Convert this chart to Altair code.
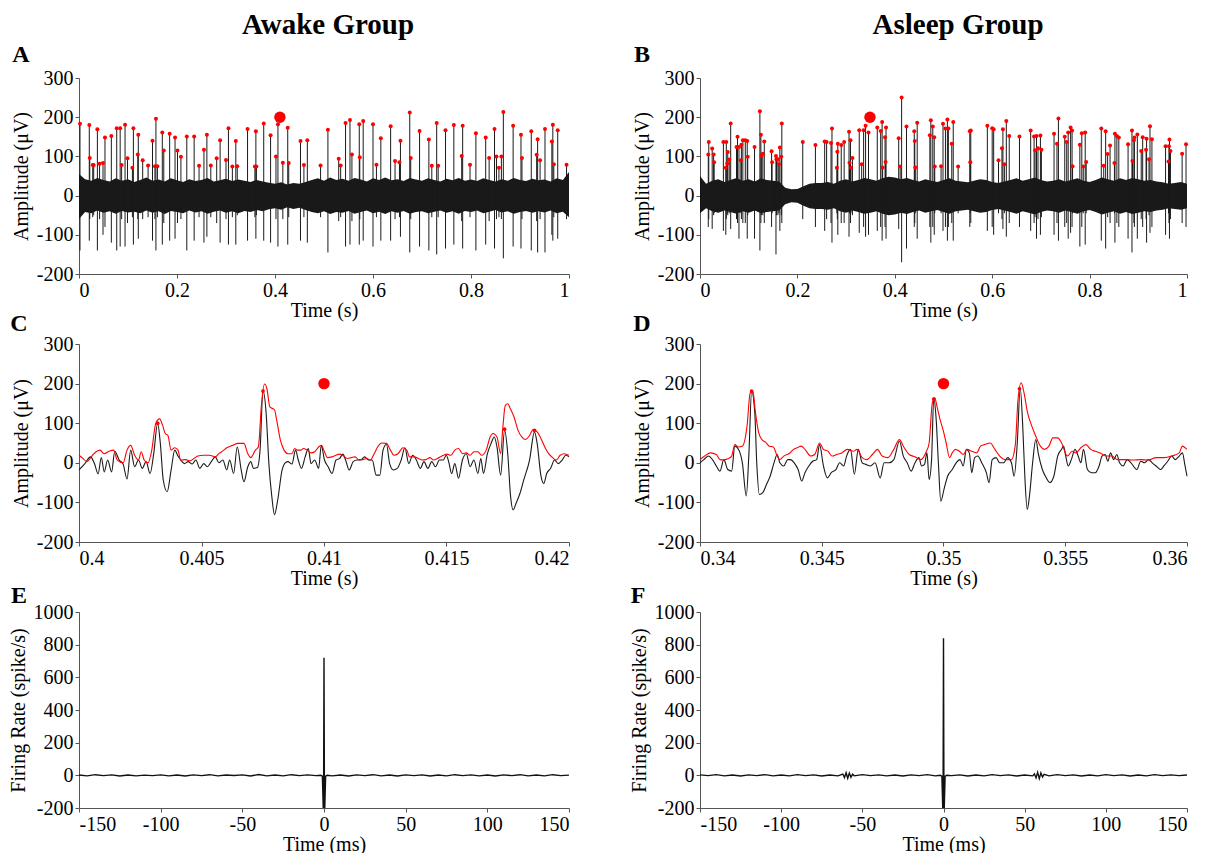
import altair as alt
import pandas as pd

FONT = "Liberation Serif"

# ---------------- Panel A (awake, 1 s raw trace) ----------------
a_spike_t = [0.002,0.021,0.022,0.028,0.030,0.0375,0.042,0.049,0.053,0.066,0.077,0.084,0.087,0.094,0.099,0.109,0.111,0.120,0.121,0.130,
             0.141,0.150,0.155,0.157,0.160,0.170,0.173,0.185,0.196,0.201,0.208,0.220,0.235,0.245,0.255,0.261,0.269,0.281,0.288,0.300,
             0.305,0.313,0.320,0.323,0.344,0.359,0.361,0.362,0.377,0.391,0.402,0.406,0.416,0.426,0.428,0.452,0.459,0.466,0.493,0.508,
             0.530,0.534,0.544,0.553,0.557,0.572,0.573,0.580,0.600,0.607,0.616,0.636,0.645,0.654,0.656,0.675,0.677,0.695,0.714,0.720,
             0.730,0.733,0.748,0.765,0.781,0.783,0.798,0.810,0.830,0.837,0.848,0.852,0.857,0.862,0.866,0.886,0.902,0.904,0.923,0.934,
             0.936,0.941,0.951,0.965,0.967,0.969,0.977,0.995]
a_spike_peak = [183,180,96,78,78,169,81,83,148,152,172,172,78,181,95,71,172,105,155,90,
                77,140,75,196,75,161,115,158,148,115,99,151,151,76,117,155,77,95,141,91,
                172,74,139,75,170,74,164,74,184,154,100,182,84,173,83,139,78,141,77,168,
                94,77,185,193,105,182,98,190,182,79,146,177,88,85,140,212,96,165,143,76,
                185,76,167,180,101,178,79,159,148,96,170,100,71,100,213,178,155,96,164,104,
                144,90,170,138,181,80,167,79]
a_spike_trough = [-140,-115,-60,-55,-50,-140,-60,-100,-80,-120,-140,-130,-60,-130,-70,-55,-125,-60,-110,-60,
                  -55,-115,-60,-140,-55,-125,-70,-115,-110,-70,-60,-140,-115,-55,-120,-105,-55,-70,-120,-60,
                  -125,-55,-125,-50,-115,-55,-110,-50,-115,-120,-60,-130,-60,-125,-55,-115,-55,-120,-55,-145,
                  -65,-55,-130,-125,-65,-125,-60,-115,-130,-55,-115,-115,-60,-55,-105,-145,-60,-130,-140,-55,
                  -150,-55,-135,-125,-65,-135,-55,-140,-125,-65,-135,-60,-55,-60,-160,-130,-135,-60,-140,-65,
                  -145,-60,-145,-100,-115,-55,-110,-60]

noise_t = [0,0.0125,0.025,0.0375,0.05,0.0625,0.075,0.0875,0.1,0.1125,0.125,0.1375,0.15,0.1625,0.175,0.1875,0.2,0.2125,0.225,0.2375,
           0.25,0.2625,0.275,0.2875,0.3,0.3125,0.325,0.3375,0.35,0.3625,0.375,0.3875,0.4,0.4125,0.425,0.4375,0.45,0.4625,0.475,0.4875,
           0.5,0.5125,0.525,0.5375,0.55,0.5625,0.575,0.5875,0.6,0.6125,0.625,0.6375,0.65,0.6625,0.675,0.6875,0.7,0.7125,0.725,0.7375,
           0.75,0.7625,0.775,0.7875,0.8,0.8125,0.825,0.8375,0.85,0.8625,0.875,0.8875,0.9,0.9125,0.925,0.9375,0.95,0.9625,0.975,0.9875,1]
a_noise_hi = [55,42,38,45,40,36,44,38,42,35,40,46,38,41,36,44,39,35,42,37,
              40,45,36,39,43,37,41,38,35,40,36,33,30,34,28,32,30,35,40,44,
              38,46,40,43,38,45,41,36,44,40,46,39,42,37,45,41,38,44,40,36,
              43,39,45,38,41,37,44,40,36,42,38,45,40,37,43,39,41,36,44,40,60]
a_noise_lo = [-60,-42,-45,-38,-44,-40,-46,-39,-43,-41,-45,-38,-44,-40,-47,-39,-42,-45,-38,-43,
              -40,-46,-41,-38,-44,-40,-45,-39,-42,-37,-40,-35,-32,-36,-30,-34,-31,-37,-42,-45,
              -40,-47,-42,-44,-39,-46,-42,-38,-45,-41,-47,-40,-44,-39,-46,-42,-40,-45,-41,-38,
              -44,-40,-46,-39,-42,-38,-45,-41,-37,-43,-40,-46,-42,-39,-44,-40,-43,-38,-45,-41,-55]
a_marker_t = [0.41]
a_marker_v = [200]

# ---------------- Panel B (asleep, 1 s raw trace) ----------------
b_spike_t = [0.017,0.018,0.025,0.028,0.029,0.048,0.053,0.054,0.056,0.057,0.060,0.063,0.075,0.077,0.080,0.084,0.085,0.088,0.093,0.097,
             0.098,0.112,0.123,0.125,0.126,0.129,0.132,0.147,0.148,0.156,0.157,0.160,0.162,0.164,0.167,0.168,0.211,0.237,0.256,0.260,
             0.269,0.271,0.281,0.282,0.283,0.290,0.296,0.306,0.307,0.309,0.310,0.313,0.327,0.332,0.336,0.340,0.346,0.364,0.371,0.374,
             0.375,0.380,0.381,0.382,0.408,0.411,0.414,0.424,0.440,0.441,0.442,0.446,0.472,0.474,0.478,0.481,0.482,0.495,0.499,0.504,
             0.508,0.510,0.517,0.520,0.530,0.554,0.555,0.556,0.590,0.600,0.603,0.613,0.620,0.622,0.625,0.629,0.635,0.656,0.679,0.686,
             0.688,0.691,0.694,0.699,0.701,0.727,0.733,0.736,0.749,0.753,0.756,0.761,0.764,0.765,0.780,0.784,0.787,0.791,0.793,0.824,
             0.829,0.833,0.837,0.842,0.851,0.852,0.856,0.860,0.879,0.887,0.888,0.891,0.892,0.898,0.906,0.909,0.916,0.917,0.922,0.924,
             0.928,0.956,0.962,0.963,0.964,0.966,0.990,0.998]
b_spike_peak = [105,137,120,105,85,137,71,137,82,111,92,184,124,150,124,90,130,141,141,139,
                99,124,215,155,101,107,138,113,85,101,93,93,80,123,99,184,137,129,138,137,
                134,171,71,112,132,129,137,163,84,141,71,96,167,80,167,178,161,174,165,188,
                72,149,86,174,146,74,250,176,164,139,72,186,154,192,176,149,74,75,183,171,
                194,171,132,188,74,164,85,166,178,172,169,90,121,169,80,190,152,151,166,151,
                116,152,121,153,117,158,132,197,150,137,161,174,166,75,130,159,74,161,86,171,
                76,164,106,128,83,158,152,148,131,166,88,141,148,156,114,149,117,145,93,177,
                144,126,87,126,143,114,107,131]
b_spike_trough = [-80,-60,-85,-50,-45,-90,-100,-60,-45,-50,-45,-85,-60,-70,-110,-45,-60,-70,-70,-110,
                  -50,-110,-140,-70,-50,-50,-70,-80,-45,-150,-50,-50,-45,-90,-50,-70,-60,-80,-90,-60,
                  -70,-120,-45,-60,-100,-70,-70,-105,-45,-70,-45,-50,-95,-45,-80,-105,-100,-90,-80,-115,
                  -45,-80,-45,-110,-85,-45,-170,-135,-80,-70,-45,-110,-80,-120,-80,-100,-45,-45,-90,-80,
                  -115,-80,-70,-115,-45,-80,-45,-70,-90,-80,-100,-45,-60,-85,-45,-105,-70,-80,-90,-70,
                  -55,-110,-60,-100,-55,-100,-70,-115,-80,-70,-110,-95,-80,-45,-130,-80,-45,-125,-45,-115,
                  -45,-135,-55,-70,-45,-120,-70,-80,-110,-145,-45,-70,-80,-110,-60,-80,-60,-120,-50,-95,
                  -80,-100,-45,-70,-110,-60,-70,-80]
b_noise_hi = [50,30,38,42,35,40,45,38,42,36,44,40,38,36,20,16,17,24,30,32,
              32,35,30,38,42,36,40,45,42,38,44,48,46,42,45,40,36,42,38,35,
              40,44,38,36,34,38,42,40,35,32,36,40,44,38,42,46,40,36,38,42,
              36,40,44,38,35,40,46,42,38,44,40,45,42,38,40,36,34,30,32,35,30]
b_noise_lo = [-45,-32,-40,-44,-38,-42,-46,-40,-44,-38,-45,-42,-40,-38,-22,-17,-18,-26,-32,-34,
              -34,-36,-32,-40,-44,-38,-42,-46,-44,-40,-46,-50,-48,-44,-47,-42,-38,-44,-40,-37,
              -42,-46,-40,-38,-36,-40,-44,-42,-37,-34,-38,-42,-46,-40,-44,-48,-42,-38,-40,-44,
              -38,-42,-46,-40,-37,-42,-48,-44,-40,-46,-42,-47,-44,-40,-42,-38,-36,-32,-34,-36,-32]
b_marker_t = [0.349]
b_marker_v = [200]

# ---------------- Panel C (awake, 20 ms zoom) ----------------
c_black_t = [0.40000,0.40024,0.40047,0.40063,0.40078,0.40091,0.40103,0.40117,0.40133,0.40146,0.40164,0.40180,0.40196,0.40211,0.40227,
             0.40243,0.40258,0.40274,0.40290,0.40305,0.40321,0.40332,0.40344,0.40360,0.40376,0.40391,0.40404,0.40415,0.40430,0.40446,
             0.40462,0.40477,0.40493,0.40509,0.40524,0.40540,0.40556,0.40571,0.40587,0.40603,0.40615,0.40631,0.40646,0.40662,0.40673,
             0.40689,0.40701,0.40712,0.40728,0.40739,0.40751,0.40764,0.40775,0.40787,0.40798,0.40811,0.40829,0.40842,0.40853,0.40869,
             0.40884,0.40895,0.40908,0.40923,0.40936,0.40947,0.40962,0.40978,0.40989,0.41002,0.41017,0.41033,0.41049,0.41064,0.41077,
             0.41088,0.41103,0.41119,0.41135,0.41150,0.41166,0.41182,0.41197,0.41213,0.41228,0.41241,0.41255,0.41268,0.41283,0.41299,
             0.41315,0.41330,0.41346,0.41362,0.41377,0.41393,0.41408,0.41424,0.41440,0.41455,0.41471,0.41487,0.41499,0.41510,0.41521,
             0.41534,0.41549,0.41565,0.41581,0.41596,0.41612,0.41628,0.41640,0.41651,0.41667,0.41682,0.41695,0.41706,0.41721,0.41737,
             0.41750,0.41761,0.41772,0.41784,0.41800,0.41815,0.41839,0.41859,0.41870,0.41886,0.41897,0.41909,0.41925,0.41941,0.41956,
             0.41972,0.41987,0.42000]
c_black_v = [-18,-2,15,-2,-28,13,-23,7,-23,29,7,-3,-41,32,-10,
             7,-14,3,-27,23,100,49,-44,-73,-18,32,17,7,-2,3,
             -3,7,-14,-2,-10,3,15,0,7,-18,7,-27,40,-18,-48,
             -10,3,-14,-12,32,182,124,-2,-85,-131,-94,-18,0,3,-3,
             32,7,-14,15,36,-2,7,-14,44,7,-10,-27,7,11,22,
             7,-18,3,7,7,15,7,7,-31,-31,32,47,-2,-18,-14,
             7,38,-2,19,7,-14,3,-14,3,-10,7,7,19,0,-27,
             -2,-39,7,23,-10,7,-27,11,-27,23,49,65,40,-31,82,
             23,-81,-119,-102,-77,-44,7,78,49,-35,-52,-27,-14,7,-2,
             7,19,15]
c_red_t = [0.40000,0.40016,0.40031,0.40055,0.40070,0.40086,0.40102,0.40125,0.40141,0.40156,0.40180,0.40196,0.40211,0.40227,0.40243,
           0.40254,0.40266,0.40282,0.40297,0.40313,0.40329,0.40341,0.40352,0.40363,0.40376,0.40391,0.40404,0.40415,0.40435,0.40454,
           0.40469,0.40485,0.40509,0.40532,0.40556,0.40571,0.40587,0.40603,0.40626,0.40649,0.40673,0.40689,0.40701,0.40720,0.40732,
           0.40745,0.40757,0.40767,0.40779,0.40798,0.40806,0.40822,0.40837,0.40853,0.40869,0.40880,0.40892,0.40905,0.40916,0.40931,
           0.40947,0.40962,0.40978,0.40989,0.41002,0.41014,0.41033,0.41049,0.41064,0.41080,0.41095,0.41111,0.41127,0.41142,0.41158,
           0.41174,0.41189,0.41205,0.41221,0.41236,0.41255,0.41271,0.41286,0.41302,0.41322,0.41338,0.41349,0.41369,0.41385,0.41401,
           0.41416,0.41432,0.41448,0.41463,0.41487,0.41502,0.41518,0.41534,0.41549,0.41565,0.41581,0.41596,0.41612,0.41628,0.41643,
           0.41662,0.41678,0.41690,0.41706,0.41721,0.41729,0.41740,0.41750,0.41761,0.41776,0.41792,0.41808,0.41823,0.41839,0.41854,
           0.41870,0.41886,0.41901,0.41917,0.41933,0.41948,0.41964,0.41980,0.42000]
c_red_v = [19,11,3,19,28,32,23,30,32,7,0,32,44,19,7,
           28,7,0,32,99,111,95,74,69,32,38,32,7,8,5,
           11,17,19,19,15,23,30,38,44,49,49,23,13,32,40,
           149,199,187,141,134,111,57,32,23,23,36,32,32,36,32,
           25,28,40,44,28,13,15,19,22,17,11,13,15,8,8,
           11,7,23,42,50,49,32,19,23,38,32,15,15,11,7,
           8,13,7,11,19,22,19,32,36,23,25,19,28,28,19,
           32,65,74,65,23,82,145,149,136,115,82,65,59,69,84,
           78,61,40,23,13,7,19,23,19]
c_dot_t = [0.40321,0.40751,0.41737,0.41859]
c_dot_v = [100,181,85,82]
c_marker_t = [0.41]
c_marker_v = [200]

# ---------------- Panel D (asleep, 20 ms zoom) ----------------
d_black_t = [0.34000,0.34016,0.34035,0.34051,0.34067,0.34082,0.34098,0.34114,0.34130,0.34143,0.34158,0.34174,0.34190,0.34201,0.34212,
             0.34225,0.34233,0.34244,0.34257,0.34273,0.34288,0.34304,0.34317,0.34328,0.34344,0.34360,0.34371,0.34387,0.34403,0.34418,
             0.34431,0.34447,0.34463,0.34479,0.34491,0.34507,0.34523,0.34539,0.34558,0.34574,0.34590,0.34602,0.34618,0.34634,0.34650,
             0.34666,0.34681,0.34700,0.34719,0.34740,0.34756,0.34777,0.34796,0.34819,0.34835,0.34851,0.34867,0.34883,0.34899,0.34910,
             0.34922,0.34932,0.34941,0.34951,0.34960,0.34970,0.34979,0.34989,0.35002,0.35017,0.35036,0.35052,0.35068,0.35081,0.35094,
             0.35106,0.35116,0.35128,0.35141,0.35157,0.35176,0.35187,0.35200,0.35216,0.35231,0.35247,0.35263,0.35279,0.35290,0.35303,
             0.35315,0.35326,0.35334,0.35344,0.35353,0.35366,0.35379,0.35390,0.35406,0.35422,0.35437,0.35453,0.35469,0.35485,0.35493,
             0.35502,0.35512,0.35525,0.35540,0.35553,0.35564,0.35575,0.35591,0.35607,0.35623,0.35639,0.35651,0.35664,0.35675,0.35686,
             0.35699,0.35712,0.35723,0.35738,0.35754,0.35770,0.35794,0.35810,0.35826,0.35842,0.35857,0.35873,0.35892,0.35905,0.35921,
             0.35937,0.35952,0.35968,0.35981,0.35992,0.36000]
d_black_v = [0,8,17,8,-8,-21,8,-17,-21,42,34,0,-84,25,181,
             126,0,-80,-76,-55,-34,0,21,0,-8,8,8,0,-17,-46,
             -25,-8,4,8,46,-8,-38,-25,-17,0,-8,17,34,-29,34,
             0,-4,-8,0,-38,0,0,8,55,17,0,-21,0,13,-8,
             -4,25,-42,8,164,109,0,-97,-67,-34,-17,0,8,-8,34,
             25,-25,13,17,0,-25,-50,8,13,0,0,13,0,-34,50,
             189,84,-34,-118,-84,0,59,21,-17,-38,-50,-34,17,34,42,
             17,-8,8,34,17,0,34,-17,-25,-25,-8,17,21,4,25,
             8,21,0,-8,8,0,-17,4,0,8,0,-8,-17,-8,4,
             17,8,17,25,-8,-34]
d_red_t = [0.34000,0.34019,0.34043,0.34067,0.34082,0.34098,0.34114,0.34130,0.34143,0.34158,0.34174,0.34193,0.34206,0.34217,0.34228,
           0.34241,0.34254,0.34269,0.34285,0.34301,0.34317,0.34328,0.34344,0.34368,0.34384,0.34399,0.34415,0.34431,0.34455,0.34471,
           0.34491,0.34507,0.34526,0.34542,0.34561,0.34582,0.34605,0.34629,0.34645,0.34666,0.34685,0.34708,0.34729,0.34748,0.34772,
           0.34796,0.34819,0.34835,0.34859,0.34883,0.34906,0.34930,0.34941,0.34954,0.34964,0.34973,0.34986,0.34998,0.35011,0.35025,
           0.35036,0.35049,0.35065,0.35081,0.35097,0.35116,0.35136,0.35152,0.35168,0.35192,0.35211,0.35231,0.35255,0.35279,0.35295,
           0.35306,0.35319,0.35331,0.35344,0.35363,0.35379,0.35398,0.35414,0.35433,0.35449,0.35469,0.35485,0.35509,0.35528,0.35544,
           0.35564,0.35585,0.35604,0.35623,0.35643,0.35667,0.35691,0.35715,0.35746,0.35778,0.35810,0.35842,0.35873,0.35905,0.35937,
           0.35968,0.35981,0.35992,0.36000]
d_red_v = [8,17,25,21,8,7,10,17,46,40,42,92,176,181,126,
           76,59,52,42,40,17,8,17,24,34,38,42,34,17,21,
           50,34,29,17,21,25,34,29,34,13,8,21,34,17,13,
           34,59,42,21,15,8,29,50,151,164,143,109,84,50,13,
           25,34,29,21,34,29,25,42,46,50,34,17,8,8,46,
           160,202,176,130,92,67,42,34,42,63,63,50,17,29,25,
           38,46,34,29,25,17,17,8,8,7,8,7,13,13,17,
           25,42,38,34]
d_dot_t = [0.34212,0.34960,0.35312]
d_dot_v = [181,161,187]
d_marker_t = [0.35]
d_marker_v = [200]

# ---------------- Panels E / F (cross-correlograms) ----------------
e_t = [-150,-145,-140,-135,-130,-125,-120,-115,-110,-105,-100,-95,-90,-85,-80,-75,-70,-65,-60,-55,-50,-45,-40,-35,-30,-25,-20,-15,-10,-5,
       -2,-1,-0.3,0,0.3,1,2,
       5,10,15,20,25,30,35,40,45,50,55,60,65,70,75,80,85,90,95,100,105,110,115,120,125,130,135,140,145,150]
e_v = [2,-3,4,-2,3,-4,2,-3,1,-2,3,-3,2,-4,3,-2,4,-3,2,-1,3,-4,5,-3,2,-3,4,-2,3,-2,
       0,-5,-260,720,-260,-5,0,
       -3,2,-4,3,-2,4,-3,2,-4,3,-2,3,-4,2,-3,4,-2,3,-3,2,-4,3,-2,4,-3,2,-3,4,-2,1]
f_t = [-150,-145,-140,-135,-130,-125,-120,-115,-110,-105,-100,-95,-90,-85,-80,-75,-70,-65,
       -62,-61,-60,-59,-58,-57,-56,-55,-50,-45,-40,-35,-30,-25,-20,-15,-10,-5,
       -2,-1,-0.3,0,0.3,1,2,
       5,10,15,20,25,30,35,40,45,50,55,
       56,57,58,59,60,61,62,
       65,70,75,80,85,90,95,100,105,110,115,120,125,130,135,140,145,150]
f_v = [3,-2,4,-3,2,-4,3,-2,4,-3,2,-3,4,-2,3,-4,2,-3,
       8,-14,16,-18,14,-12,7,-3,4,-2,3,-3,2,-4,3,-2,4,-3,
       0,-5,-260,840,-260,-5,0,
       -2,3,-4,2,-3,4,-2,3,-4,2,-3,
       9,-16,18,-20,15,-10,6,
       -3,4,-2,3,-4,2,-3,4,-2,3,-4,2,-3,4,-2,3,-2,2]

SIG_TICKS = [0, 0.2, 0.4, 0.6, 0.8, 1]
C_TICKS = [0.4, 0.405, 0.41, 0.415, 0.42]
D_TICKS = [0.34, 0.345, 0.35, 0.355, 0.36]
AMP_TICKS = [-200, -100, 0, 100, 200, 300]
CC_X_TICKS = [-150, -100, -50, 0, 50, 100, 150]
CC_Y_TICKS = [-200, 0, 200, 400, 600, 800, 1000]

LEFT_W, RIGHT_W = 490, 487
H1, H2, H3 = 196, 198, 196


def xaxis(title, ticks):
    return alt.Axis(title=title, values=ticks, labelExpr="toString(datum.value)")


def yaxis(title, ticks):
    return alt.Axis(title=title, values=ticks, labelExpr="toString(datum.value)")


def label_layer(letter, lx, ly):
    return alt.Chart(pd.DataFrame({"s": [letter]})).mark_text(
        font=FONT, fontSize=24, fontWeight="bold", align="center", baseline="middle", color="black"
    ).encode(text="s:N", x=alt.value(lx), y=alt.value(ly))


def title_layer(text, tx, ty):
    return alt.Chart(pd.DataFrame({"s": [text]})).mark_text(
        font=FONT, fontSize=29, fontWeight="bold", align="center", baseline="middle", color="black"
    ).encode(text="s:N", x=alt.value(tx), y=alt.value(ty))


def raw_panel(sp_t, sp_p, sp_tr, hi, lo, mk_t, mk_v, letter, lxy, title, txy, width):
    xs = alt.Scale(domain=[0, 1], nice=False, zero=False)
    ys = alt.Scale(domain=[-200, 300], nice=False, zero=False)
    X = alt.X("t:Q", scale=xs, axis=xaxis("Time (s)", SIG_TICKS))
    Y = alt.Y("v:Q", scale=ys, axis=yaxis("Amplitude (\u03bcV)", AMP_TICKS))
    noise = pd.DataFrame({"t": noise_t, "v": lo, "v2": hi})
    spikes = pd.DataFrame({"t": sp_t, "v": sp_tr, "v2": sp_p})
    dots = pd.DataFrame({"t": sp_t, "v": sp_p})
    mk = pd.DataFrame({"t": mk_t, "v": mk_v})
    band = alt.Chart(noise).mark_area(color="#0d0d0d", opacity=0.95).encode(x=X, y=Y, y2="v2:Q")
    rules = alt.Chart(spikes).mark_rule(color="#1a1a1a", strokeWidth=1).encode(x=X, y=Y, y2="v2:Q")
    reds = alt.Chart(dots).mark_circle(color="#ff0000", size=16, opacity=1).encode(x=X, y=Y)
    big = alt.Chart(mk).mark_circle(color="#ff0000", size=130, opacity=1).encode(x=X, y=Y)
    return alt.layer(band, rules, reds, big,
                     label_layer(letter, *lxy), title_layer(title, *txy)).properties(width=width, height=H1)


def zoom_panel(bt, bv, rt, rv, dt, dv, mk_t, mk_v, dom, ticks, letter, lxy, width):
    xs = alt.Scale(domain=dom, nice=False, zero=False)
    ys = alt.Scale(domain=[-200, 300], nice=False, zero=False)
    X = alt.X("t:Q", scale=xs, axis=xaxis("Time (s)", ticks))
    Y = alt.Y("v:Q", scale=ys, axis=yaxis("Amplitude (\u03bcV)", AMP_TICKS))
    black = alt.Chart(pd.DataFrame({"t": bt, "v": bv})).mark_line(
        color="#1a1a1a", strokeWidth=1.1, interpolate="monotone").encode(x=X, y=Y)
    red = alt.Chart(pd.DataFrame({"t": rt, "v": rv})).mark_line(
        color="#ff0000", strokeWidth=1.1, interpolate="monotone").encode(x=X, y=Y)
    dots = alt.Chart(pd.DataFrame({"t": dt, "v": dv})).mark_circle(
        color="#ff0000", size=14, opacity=1).encode(x=X, y=Y)
    big = alt.Chart(pd.DataFrame({"t": mk_t, "v": mk_v})).mark_circle(
        color="#ff0000", size=130, opacity=1).encode(x=X, y=Y)
    return alt.layer(black, red, dots, big, label_layer(letter, *lxy)).properties(width=width, height=H2)


def cc_panel(t, v, letter, lxy, width):
    xs = alt.Scale(domain=[-150, 150], nice=False, zero=False)
    ys = alt.Scale(domain=[-200, 1000], nice=False, zero=False)
    X = alt.X("t:Q", scale=xs, axis=xaxis("Time (ms)", CC_X_TICKS))
    Y = alt.Y("v:Q", scale=ys, axis=yaxis("Firing Rate (spike/s)", CC_Y_TICKS))
    line = alt.Chart(pd.DataFrame({"t": t, "v": v})).mark_line(
        color="#111111", strokeWidth=1.4, clip=True).encode(x=X, y=Y)
    return alt.layer(line, label_layer(letter, *lxy)).properties(width=width, height=H3)


pA = raw_panel(a_spike_t, a_spike_peak, a_spike_trough, a_noise_hi, a_noise_lo, a_marker_t, a_marker_v,
               "A", (-58, -23), "Awake Group", (249, -53), LEFT_W)
pB = raw_panel(b_spike_t, b_spike_peak, b_spike_trough, b_noise_hi, b_noise_lo, b_marker_t, b_marker_v,
               "B", (-58, -23), "Asleep Group", (258, -53), RIGHT_W)
pC = zoom_panel(c_black_t, c_black_v, c_red_t, c_red_v, c_dot_t, c_dot_v, c_marker_t, c_marker_v,
                [0.4, 0.42], C_TICKS, "C", (-60, -20), LEFT_W)
pD = zoom_panel(d_black_t, d_black_v, d_red_t, d_red_v, d_dot_t, d_dot_v, d_marker_t, d_marker_v,
                [0.34, 0.36], D_TICKS, "D", (-58, -20), RIGHT_W)
pE = cc_panel(e_t, e_v, "E", (-60, -16), LEFT_W)
pF = cc_panel(f_t, f_v, "F", (-62, -16), RIGHT_W)

chart = alt.concat(pA, pB, pC, pD, pE, pF, columns=2, bounds="flush",
                   spacing=alt.RowColnumber(row=70, column=131)).properties(
    padding={"left": 0, "top": 3, "right": 5, "bottom": 5}
).configure_view(stroke=None).configure_axis(
    grid=False,
    domainColor="#555555",
    tickColor="#555555",
    tickSize=4,
    labelFont=FONT,
    labelFontSize=20,
    labelColor="black",
    labelPadding=2,
    titleFont=FONT,
    titleFontSize=20,
    titleFontWeight="normal",
    titleColor="black",
).configure_axisX(titlePadding=0).configure_axisY(titlePadding=5)

chart.save("out.html", embed_options={"renderer": "svg", "actions": False})
